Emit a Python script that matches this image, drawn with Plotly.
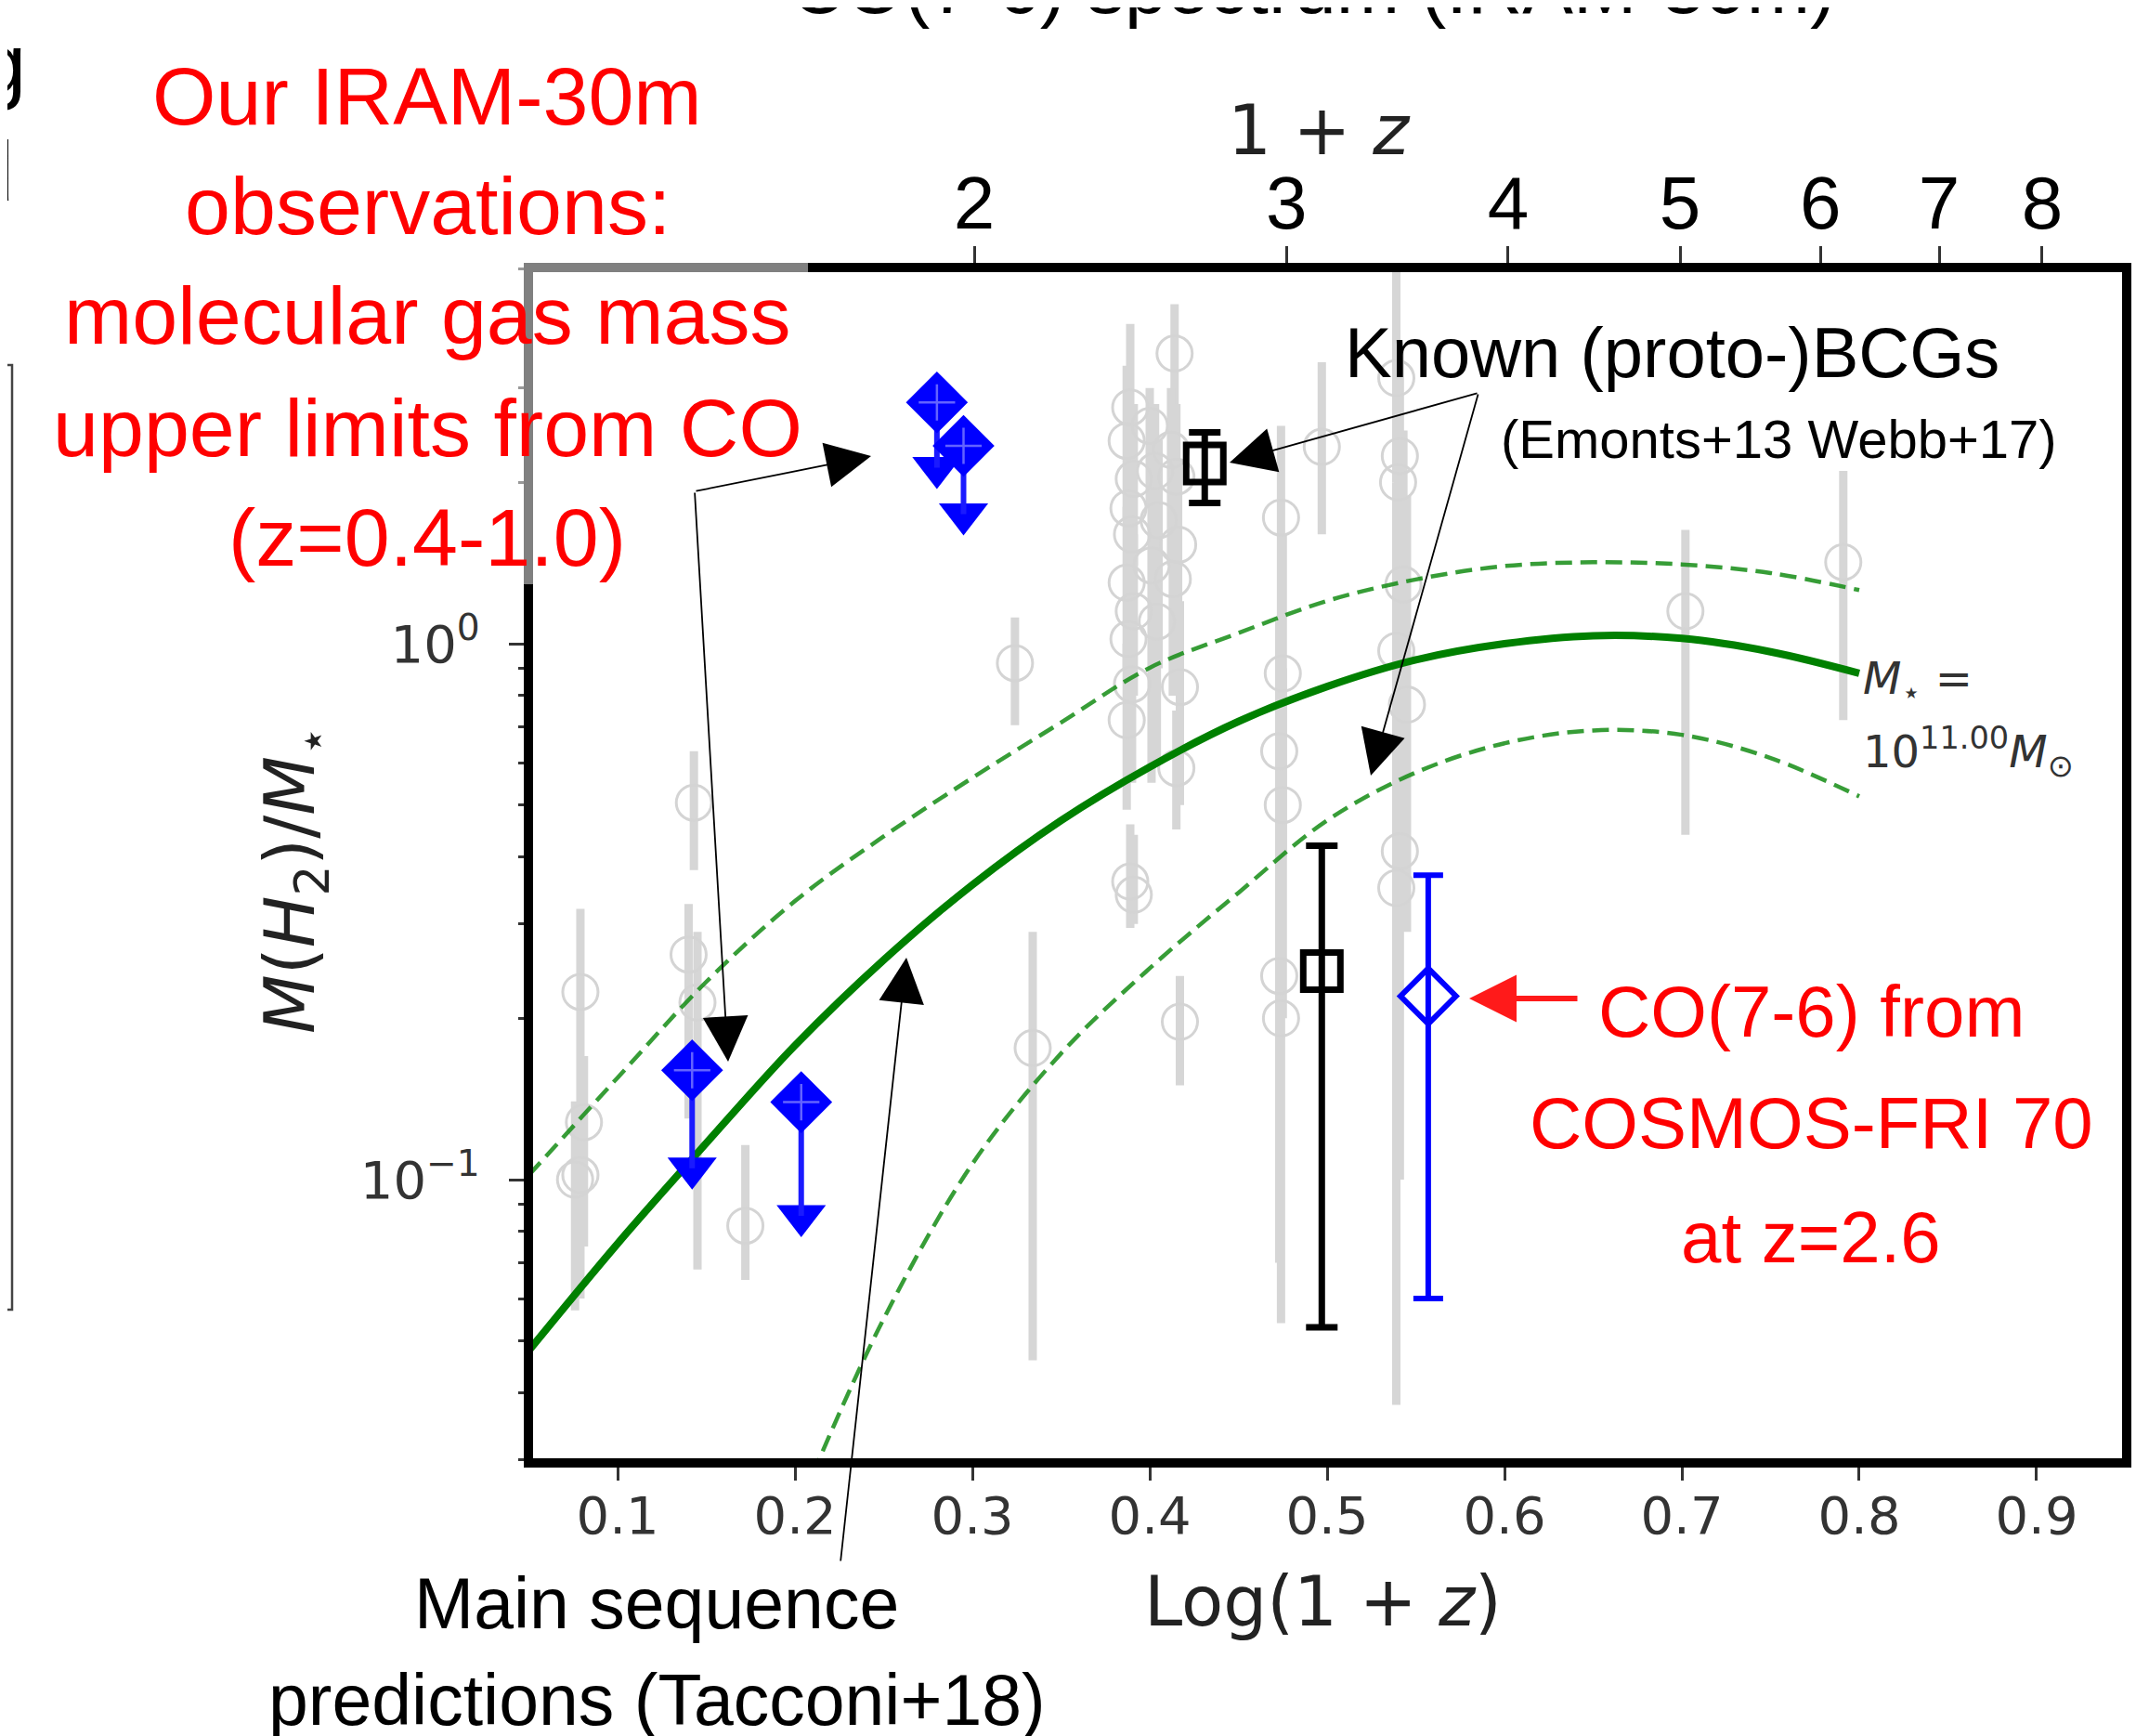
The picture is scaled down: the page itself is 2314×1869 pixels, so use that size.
import numpy as np
import plotly.graph_objects as go

# ------------------------------------------------------------------ data
# literature points (grey): log(1+z), M(H2)/M*, lower / upper error ends
grey_x = [0.079, 0.081, 0.076, 0.079, 0.143, 0.140, 0.145, 0.172, 0.324, 0.334,
          0.389, 0.387, 0.391, 0.388, 0.390, 0.387, 0.391, 0.388, 0.390, 0.387, 0.389, 0.391,
          0.400, 0.403, 0.405, 0.401, 0.404,
          0.414, 0.412, 0.415, 0.416, 0.413, 0.417, 0.415, 0.417,
          0.474, 0.475, 0.473, 0.475, 0.473, 0.474,
          0.497,
          0.539, 0.541, 0.540, 0.543, 0.539, 0.545, 0.541, 0.539,
          0.702, 0.791]
grey_y = [0.224, 0.128, 0.100, 0.102, 0.505, 0.263, 0.214, 0.082, 0.92, 0.176,
          2.76, 2.39, 2.03, 1.79, 1.60, 1.30, 1.15, 1.02, 0.84, 0.72, 0.36, 0.34,
          2.55, 2.10, 1.70, 1.40, 1.10,
          3.48, 2.30, 2.05, 1.53, 1.32, 0.83, 0.586, 0.197,
          1.72, 0.88, 0.63, 0.50, 0.24, 0.20,
          2.33,
          3.13, 2.24, 2.00, 1.29, 0.97, 0.77, 0.41, 0.35,
          1.15, 1.42]
grey_lo = [0.10, 0.075, 0.057, 0.06, 0.378, 0.13, 0.068, 0.065, 0.705, 0.046,
           2.0, 1.7, 1.4, 1.2, 1.1, 0.9, 0.8, 0.7, 0.55, 0.49, 0.295, 0.30,
           1.8, 1.5, 0.9, 0.55, 0.6,
           2.3, 1.4, 1.2, 0.9, 0.8, 0.5, 0.45, 0.15,
           1.0, 0.4, 0.3, 0.2, 0.07, 0.054,
           1.60,
           2.0, 1.3, 1.0, 0.6, 0.4, 0.29, 0.1, 0.038,
           0.44, 0.72]
grey_hi = [0.32, 0.17, 0.14, 0.13, 0.63, 0.327, 0.29, 0.116, 1.12, 0.29,
           3.95, 3.3, 2.8, 2.5, 2.2, 1.8, 1.6, 1.4, 1.2, 1.0, 0.46, 0.44,
           3.0, 2.8, 2.4, 2.0, 1.5,
           4.3, 3.0, 2.8, 2.2, 2.0, 1.2, 0.75, 0.24,
           2.55, 1.6, 1.1, 0.9, 0.5, 0.45,
           3.35,
           5.2, 3.5, 3.3, 2.5, 2.0, 1.89, 1.0, 0.9,
           1.63, 2.1]

# Tacconi+18 main-sequence prediction for M* = 1e11 Msun
ms_x = [0.05, 0.10, 0.15, 0.20, 0.25, 0.30, 0.35, 0.40, 0.45, 0.50, 0.55, 0.60,
        0.65, 0.70, 0.75, 0.80]
ms_y = [0.048, 0.076, 0.117, 0.178, 0.257, 0.355, 0.468, 0.589, 0.716, 0.832,
        0.933, 1.00, 1.035, 1.023, 0.966, 0.881]
ms_up_x = [0.05, 0.10, 0.15, 0.20, 0.25, 0.30, 0.35, 0.40, 0.45, 0.50, 0.55, 0.60,
           0.65, 0.70, 0.75, 0.80]
ms_up_y = [0.102, 0.155, 0.234, 0.331, 0.437, 0.562, 0.713, 0.902, 1.047, 1.202,
           1.318, 1.396, 1.419, 1.406, 1.355, 1.259]
ms_lo_x = [0.21, 0.25, 0.30, 0.35, 0.40, 0.45, 0.50, 0.55, 0.60, 0.65, 0.70, 0.75, 0.80]
ms_lo_y = [0.0282, 0.055, 0.107, 0.172, 0.248, 0.343, 0.468, 0.575, 0.652, 0.689,
           0.676, 0.612, 0.519]

# IRAM-30m upper limits (diamond) and the end of each limit arrow
lim_x = [0.280, 0.295, 0.142, 0.2035]
lim_y = [2.82, 2.34, 0.160, 0.1395]
lim_end_y = [2.13, 1.745, 0.105, 0.0856]

# known (proto-)BCGs
bcg_x = [0.431, 0.497]
bcg_y = [2.17, 0.245]
bcg_lo = [1.83, 0.053]
bcg_hi = [2.48, 0.42]

# COSMOS-FRI 70, CO(7-6)
cos_x = [0.557]
cos_y = [0.22]
cos_lo = [0.06]
cos_hi = [0.37]

bottom_ticks = [0.1, 0.2, 0.3, 0.4, 0.5, 0.6, 0.7, 0.8, 0.9]
top_tick_values = [2, 3, 4, 5, 6, 7, 8]
y_ticks = [0.1, 1.0]
y_tick_text = ["10<sup>−1</sup>", "10<sup>0</sup>"]

# ------------------------------------------------------------------ layout geometry
# the page body has an 8px margin, so the figure is drawn 8px smaller and the
# reference-picture pixel positions below are shifted by OFF
OFF = 8
W, H = 2314 - OFF, 1869 - OFF
L, R, T, B = 569 - OFF, 24, 288 - OFF, 294
PW, PH = W - L - R, H - T - B
XR = [0.0497, 0.9508]
YR = [-1.5286, 0.702]

SLIDE = "Liberation Sans, Arial, sans-serif"
MPL = "DejaVu Sans, Liberation Sans, sans-serif"


def px(x):
    return (x - OFF - L) / PW


def py(y):
    return 1 - (y - OFF - T) / PH


def arr(a):
    return np.array(a, dtype=float)


fig = go.Figure()

# grey literature points
gx, gy = arr(grey_x), arr(grey_y)
fig.add_trace(go.Scatter(
    x=gx, y=gy, mode="markers",
    marker=dict(symbol="circle-open", size=38, color="#d4d4d4", line=dict(width=3, color="#d4d4d4")),
    error_y=dict(type="data", symmetric=False, array=arr(grey_hi) - gy,
                 arrayminus=gy - arr(grey_lo), color="#d6d6d6", thickness=9, width=0),
    showlegend=False, hoverinfo="skip"))

# main-sequence curves
fig.add_trace(go.Scatter(x=ms_up_x, y=ms_up_y, mode="lines", line_shape="spline",
                         line=dict(color="rgba(20,140,20,0.85)", width=4.5, dash="18px,9px"),
                         showlegend=False, hoverinfo="skip"))
fig.add_trace(go.Scatter(x=ms_lo_x, y=ms_lo_y, mode="lines", line_shape="spline",
                         line=dict(color="rgba(20,140,20,0.85)", width=4.5, dash="18px,9px"),
                         showlegend=False, hoverinfo="skip"))
fig.add_trace(go.Scatter(x=ms_x, y=ms_y, mode="lines", line_shape="spline",
                         line=dict(color="#008000", width=8),
                         showlegend=False, hoverinfo="skip"))

# upper limits
ly = arr(lim_y)
fig.add_trace(go.Scatter(
    x=lim_x, y=lim_end_y, mode="markers",
    marker=dict(symbol="triangle-down", size=46, color="#0000ff", line=dict(width=0)),
    showlegend=False, hoverinfo="skip"))
fig.add_trace(go.Scatter(
    x=lim_x, y=ly, mode="markers",
    marker=dict(symbol="diamond", size=48, color="#0000ff", line=dict(width=3, color="#0000ff")),
    error_y=dict(type="data", symmetric=False, array=np.zeros(len(ly)),
                 arrayminus=ly - arr(lim_end_y), color="#1a1aff", thickness=6, width=0),
    showlegend=False, hoverinfo="skip"))
fig.add_trace(go.Scatter(
    x=lim_x, y=ly, mode="markers",
    marker=dict(symbol="cross-thin", size=28, color="rgba(110,110,255,0.9)",
                line=dict(width=2.5, color="rgba(110,110,255,0.9)")),
    showlegend=False, hoverinfo="skip"))

# BCGs
by = arr(bcg_y)
fig.add_trace(go.Scatter(
    x=bcg_x, y=by, mode="markers",
    marker=dict(symbol="square-open", size=40, color="black", line=dict(width=7, color="black")),
    error_y=dict(type="data", symmetric=False, array=arr(bcg_hi) - by,
                 arrayminus=by - arr(bcg_lo), color="black", thickness=7, width=17),
    showlegend=False, hoverinfo="skip"))

# COSMOS-FRI 70
cy = arr(cos_y)
fig.add_trace(go.Scatter(
    x=cos_x, y=cy, mode="markers",
    marker=dict(symbol="diamond-open", size=46, color="#0000ff", line=dict(width=6, color="#0000ff")),
    error_y=dict(type="data", symmetric=False, array=arr(cos_hi) - cy,
                 arrayminus=cy - arr(cos_lo), color="#0000ff", thickness=6, width=16),
    showlegend=False, hoverinfo="skip"))

# invisible trace so the top (1+z) axis is drawn
fig.add_trace(go.Scatter(x=np.log10(top_tick_values), y=[np.nan] * len(top_tick_values),
                         xaxis="x2", mode="markers", showlegend=False, hoverinfo="skip"))

# ------------------------------------------------------------------ annotations
ann = []


def text(s, cx, base, size, color="black", family=SLIDE, xanchor="center"):
    ann.append(dict(text=s, x=px(cx), y=py(base - 0.35 * size), xref="paper", yref="paper",
                    xanchor=xanchor, yanchor="middle", showarrow=False,
                    font=dict(size=size, color=color, family=family)))


def arrow(tail, tip, color="black", width=1.8, size=5.4):
    ann.append(dict(text="", x=px(tip[0]), y=py(tip[1]), xref="paper", yref="paper",
                    ax=tail[0] - tip[0], ay=tail[1] - tip[1], axref="pixel", ayref="pixel",
                    showarrow=True, arrowhead=2, arrowwidth=width, arrowsize=size,
                    arrowcolor=color, standoff=0))


red = "#ff0000"
for s, base in [("Our IRAM-30m", 134), ("observations:", 252), ("molecular gas mass", 370),
                ("upper limits from CO", 491), ("(z=0.4-1.0)", 609)]:
    text(s, 460, base, 88, red)

for s, base in [("CO(7-6) from", 1116), ("COSMOS-FRI 70", 1236), ("at z=2.6", 1359)]:
    text(s, 1950, base, 78, red)

text("Known (proto-)BCGs", 1800, 406, 76)
text("(Emonts+13 Webb+17)", 1915, 493, 58)
text("Main sequence", 707, 1753, 77)
text("predictions (Tacconi+18)", 707, 1857, 77)

# clipped slide text
text("CO(7-6) spectrum (IRAM-30m)", 1978, 14, 82, xanchor="right")
text("g", 30, 100, 90, xanchor="right")
text("d", 17, 216, 90, xanchor="right")

# axis titles / labels
text("Log(1 + <i>z</i>)", 1424, 1750, 74, "#222", MPL)
text("1 + <i>z</i>", 1420, 166, 74, "#222", MPL)
ann.append(dict(text="<i>M</i>(<i>H</i><sub>2</sub>)/<i>M</i><sub>⋆</sub>", x=px(318), y=py(948),
                xref="paper", yref="paper", textangle=-90, showarrow=False,
                xanchor="center", yanchor="middle",
                font=dict(size=74, color="#222", family=MPL)))
text("<i>M</i><sub>⋆</sub> =", 2004, 750, 48, "#333", MPL, xanchor="left")
text("10<sup>11.00</sup><i>M</i><sub>⊙</sub>", 2004, 826, 48, "#333", MPL, xanchor="left")

# arrows
arrow((748, 529), (938, 491))
arrow((748, 529), (784, 1143))
arrow((1592, 423), (1324, 498))
arrow((1592, 423), (1476, 835))
arrow((905, 1682), (976, 1031))
arrow((1700, 1075), (1582, 1075), color="#ff1a1a", width=6, size=1.7)

# ------------------------------------------------------------------ shapes
shapes = [
    dict(type="rect", xref="paper", yref="paper", x0=0, x1=1, y0=0, y1=1,
         line=dict(color="black", width=10), layer="above"),
    # translucent box behind the red text (greys part of the frame)
    dict(type="rect", xref="paper", yref="paper", x0=px(530), x1=px(870), y0=py(629), y1=py(265),
         fillcolor="rgba(255,255,255,0.5)", line=dict(width=0), layer="above"),
    # corner of a neighbouring slide box at the left edge
    dict(type="path", xref="paper", yref="paper",
         path=f"M {px(0)},{py(393)} L {px(13)},{py(393)} L {px(13)},{py(1410)} L {px(0)},{py(1410)}",
         line=dict(color="#444", width=2.5)),
]

minor_y = [0.03, 0.04, 0.05, 0.06, 0.07, 0.08, 0.09, 0.2, 0.3, 0.4, 0.5, 0.6, 0.7, 0.8, 0.9,
           2, 3, 4, 5]

fig.update_layout(
    width=W, height=H,
    margin=dict(l=L, r=R, t=T, b=B, pad=0),
    paper_bgcolor="white", plot_bgcolor="white",
    showlegend=False,
    xaxis=dict(range=XR, tickmode="array", tickvals=bottom_ticks,
               ticktext=[f"{v:.1f}" for v in bottom_ticks],
               ticks="outside", ticklen=18, tickwidth=3, tickcolor="#333",
               tickfont=dict(family=MPL, size=56, color="#333"), ticklabelstandoff=-10,
               showgrid=False, zeroline=False, showline=False),
    xaxis2=dict(range=XR, overlaying="x", side="top", tickmode="array",
                tickvals=np.log10(top_tick_values), ticktext=[str(v) for v in top_tick_values],
                ticks="outside", ticklen=22, tickwidth=3, tickcolor="#333",
                tickfont=dict(family=SLIDE, size=80, color="black"), ticklabelstandoff=-13,
                showgrid=False, zeroline=False, showline=False),
    yaxis=dict(type="log", range=YR, tickmode="array", tickvals=y_ticks, ticktext=y_tick_text,
               ticks="outside", ticklen=20, tickwidth=3, tickcolor="#333",
               tickfont=dict(family=MPL, size=56, color="#333"), ticklabelstandoff=20,
               minor=dict(tickmode="array", tickvals=minor_y, ticks="outside", ticklen=10,
                          tickwidth=2.5, tickcolor="#333"),
               showgrid=False, zeroline=False, showline=False),
    annotations=ann,
    shapes=shapes,
)

fig.write_html("out.html")
